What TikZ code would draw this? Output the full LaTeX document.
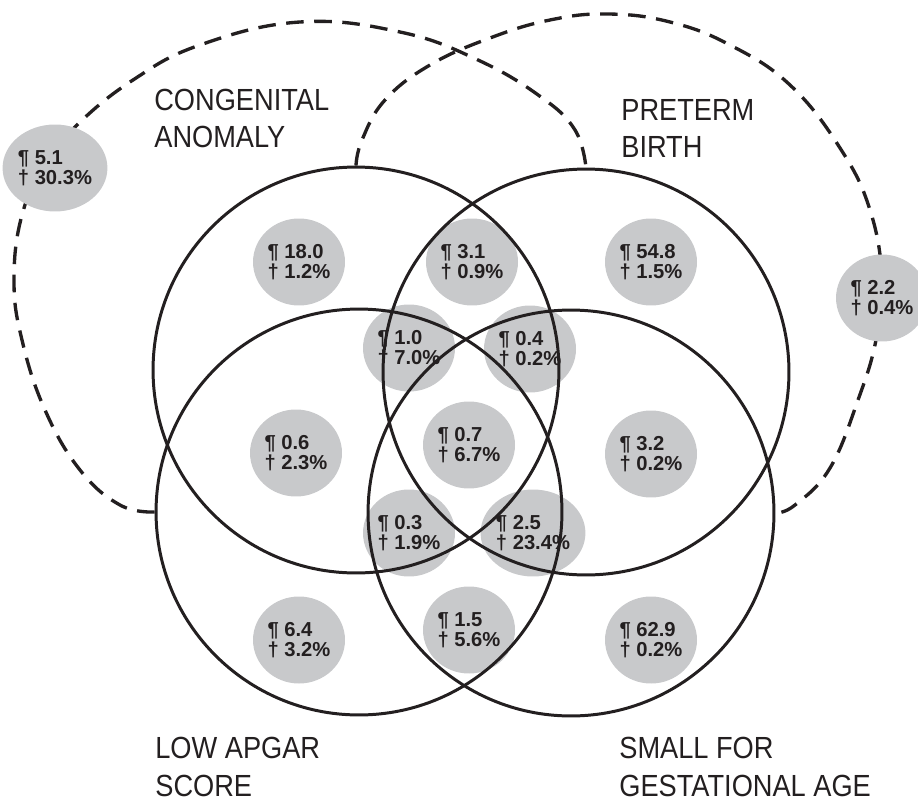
\documentclass[tikz,border=0pt]{standalone}
\usepackage{fontspec}
\newfontfamily\labelfont[FakeStretch=0.89]{Liberation Sans}
\newfontfamily\cellfont{Liberation Sans}
\usetikzlibrary{shapes.geometric}
\pgfdeclarelayer{background}
\pgfsetlayers{background,main}

\begin{document}
\begin{tikzpicture}[
    x=0.02cm,
    y=-0.02cm,
    line cap=round,
    line join=round
]

\definecolor{InkBlack}{HTML}{231F20}
\definecolor{CellGray}{HTML}{C8C9CB}

\tikzset{
    ring/.style={
        circle,
        draw=InkBlack,
        line width=1.7pt,
        minimum size=8.12cm,
        inner sep=0pt
    },
    cell/.style={
        ellipse,
        fill=CellGray,
        minimum width=1.84cm,
        minimum height=1.74cm,
        inner sep=0pt,
        align=left,
        text=InkBlack,
        font=\cellfont\bfseries\fontsize{11.5}{11.5}\selectfont
    },
    group label/.style={
        anchor=base west,
        align=left,
        inner sep=0pt,
        text=InkBlack,
        font=\labelfont\fontsize{17.4}{21.5}\selectfont
    },
    outline/.style={
        draw=InkBlack,
        line width=1.9pt,
        line cap=butt,
        dash pattern=on 10pt off 6pt
    }
}

\useasboundingbox (0,0) rectangle (918,800);

\node[ring] (anomaly) at (356,370) {};
\node[ring] (preterm) at (586,372) {};
\node[ring] (apgar) at (359,512) {};
\node[ring] (smallga) at (571,513) {};

% base anchor sits on the last line
\node[group label] (lblanomaly) at (154,148) {CONGENITAL\\ANOMALY};
\node[group label] (lblpreterm) at (621,158) {PRETERM\\BIRTH};
\node[group label] (lblapgar) at (155,796) {LOW APGAR\\SCORE};
\node[group label] (lblsmallga) at (619,796) {SMALL FOR\\GESTATIONAL AGE};

\begin{pgfonlayer}{background}
\draw[outline] plot[smooth, tension=0.7] coordinates {
    (apgar.west) (120,505) (80,470) (45,410) (22,340) (14,280) (22,215)
    (45,165) (77,125) (133,80) (200,45) (300,22) (400,32) (478,60) (541,97)
    (575,130) (preterm.north)};
\draw[outline] plot[smooth, tension=0.7] coordinates {
    (anomaly.north) (362,140) (385,100) (430,65) (490,38) (550,20) (608,14)
    (670,22) (730,45) (790,85) (840,148) (870,210) (882,280) (876,340)
    (858,400) (830,468) (795,505) (smallga.east)};

\foreach \x/\y/\name/\a/\b in {
    55/168/c51/5.1/30.3, 299/262/c180/18.0/1.2, 472/262/c31/3.1/0.9,
    651/262/c548/54.8/1.5, 882/298/c22/2.2/0.4, 409/348/c10/1.0/7.0,
    530/349/c04/0.4/0.2, 296/453/c06/0.6/2.3, 469/445/c07/0.7/6.7,
    651/454/c32/3.2/0.2, 409/533/c03/0.3/1.9, 533/533/c25/2.5/23.4,
    299/640/c64/6.4/3.2, 469/630/c15/1.5/5.6, 651/640/c629/62.9/0.2} {
    \node[cell] (\name) at (\x,\y) {¶ \a\\† \b\%};
}
\end{pgfonlayer}

\end{tikzpicture}
\end{document}
